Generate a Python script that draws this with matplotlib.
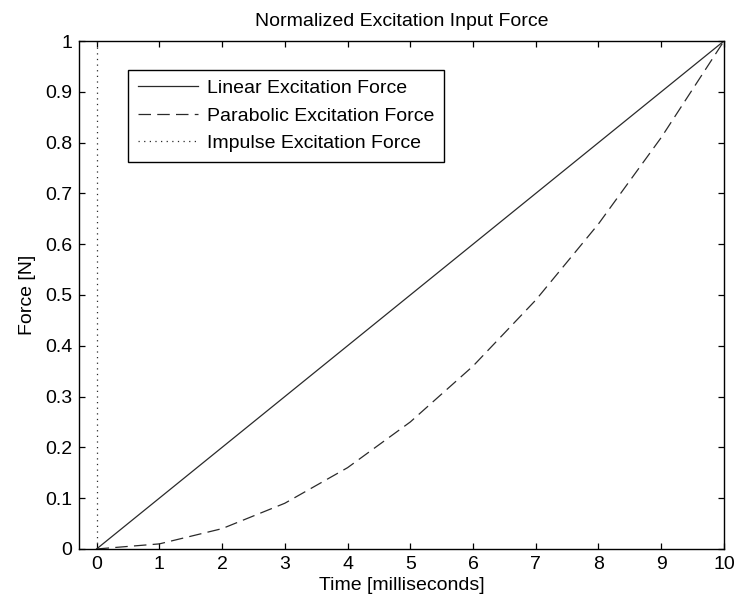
import numpy as np
import matplotlib.pyplot as plt

plt.rcParams['font.family'] = ['Liberation Sans', 'DejaVu Sans']

# time axis in milliseconds
t_lin = [0, 10]
f_lin = [0, 1]

t_par = [0, 1, 2, 3, 4, 5, 6, 7, 8, 9, 10]
f_par = [0, 0.01, 0.04, 0.09, 0.16, 0.25, 0.36, 0.49, 0.64, 0.81, 1.0]

t_imp = [0, 0]
f_imp = [0, 1]

fig = plt.figure(figsize=(7.35, 6.03), dpi=100)
ax = fig.add_axes([0.1075, 0.0896, 0.8775, 0.8424])

lc = '#2a2a2a'
ax.plot(t_lin, f_lin, '-', color=lc, lw=0.9, label='Linear Excitation Force')
ax.plot(t_par, f_par, '--', color=lc, lw=0.9, dashes=(10, 5),
        label='Parabolic Excitation Force')
ax.plot(t_imp, f_imp, ':', color=lc, lw=0.9, dashes=(1, 3.5),
        label='Impulse Excitation Force')

ax.set_xlim(-0.28, 10)
ax.set_ylim(0, 1)
ax.set_xticks(range(0, 11))
ax.set_yticks(np.arange(0, 1.01, 0.1))
ax.set_yticklabels(['0', '0.1', '0.2', '0.3', '0.4', '0.5', '0.6', '0.7', '0.8', '0.9', '1'])
ax.tick_params(direction='in', top=True, right=True, labelsize=14, length=4.5,
               width=0.9, pad=5)
for s in ax.spines.values():
    s.set_linewidth(1.0)

ax.set_xlabel('Time [milliseconds]', fontsize=14, labelpad=3)
ax.set_ylabel('Force [N]', fontsize=14, labelpad=6)
ax.set_title('Normalized Excitation Input Force', fontsize=14, pad=11)

leg = ax.legend(loc='upper left', bbox_to_anchor=(0.076, 0.943), borderaxespad=0,
                fontsize=14, fancybox=False, framealpha=1, edgecolor='black',
                handlelength=3.1, handletextpad=0.45, borderpad=0.5,
                labelspacing=0.5)
leg.get_frame().set_linewidth(1.0)

fig.savefig('out.png', dpi=100)
